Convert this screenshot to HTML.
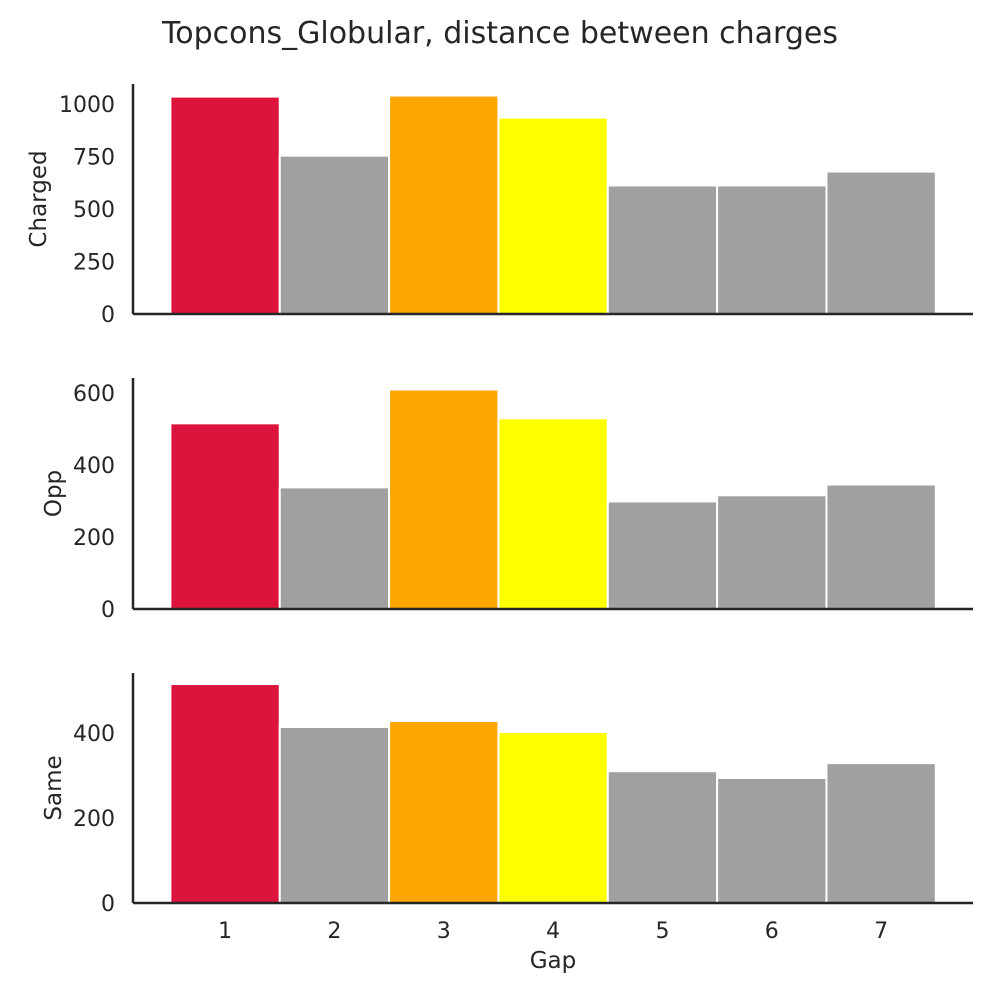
<!DOCTYPE html>
<html><head><meta charset="utf-8"><style>
body{margin:0;background:#fff;}
svg text{font-family:"DejaVu Sans","Liberation Sans",sans-serif;fill:#262626;}
</style></head><body>
<svg id="chart" width="1000" height="1000" viewBox="0 0 1000 1000" xmlns="http://www.w3.org/2000/svg">
<rect width="1000" height="1000" fill="#fff"/>
<text x="500" y="43" font-size="30" text-anchor="middle">Topcons_Globular, distance between charges</text>
<text x="553" y="968" font-size="23" text-anchor="middle">Gap</text>
</svg>
<script>
const categories = [1,2,3,4,5,6,7];
const chargedValues = [1035,754,1040,935,612,612,678];
const oppValues = [516,338,610,530,299,316,346];
const sameValues = [515,414,428,402,310,294,329];
const chargedTicks = [0,250,500,750,1000];
const oppTicks = [0,200,400,600];
const sameTicks = [0,200,400];
const barColors = ['#dc143c','#a0a0a0','#ffa500','#ffff00','#a0a0a0','#a0a0a0','#a0a0a0'];

const svg = document.getElementById('chart');
const NS = 'http://www.w3.org/2000/svg';
const X0 = 133, X1 = 973, XMIN = 0.158, XMAX = 7.84;
function xScale(v){ return X0 + (v - XMIN) / (XMAX - XMIN) * (X1 - X0); }
function mk(tag, attrs){ const e = document.createElementNS(NS, tag); for (const k in attrs) e.setAttribute(k, attrs[k]); svg.appendChild(e); return e; }

const panels = [
  {name:'charged', label:'Charged', values:chargedValues, ticks:chargedTicks, top:84, bottom:314, ymax:1095, lx:38},
  {name:'opp', label:'Opp', values:oppValues, ticks:oppTicks, top:378, bottom:609, ymax:642, lx:53},
  {name:'same', label:'Same', values:sameValues, ticks:sameTicks, top:673, bottom:903, ymax:541, lx:53}
];
panels.forEach((p, pi) => {
  const y = v => p.bottom - v / p.ymax * (p.bottom - p.top);
  p.values.forEach((v, i) => {
    const xl = xScale(categories[i] - 0.5), xr = xScale(categories[i] + 0.5);
    const r = mk('rect', {x:xl, y:y(v), width:xr - xl, height:p.bottom - y(v), fill:barColors[i], stroke:'#fff', 'stroke-width':2});
    
    
  });
  const ya = mk('line', {x1:X0, x2:X0, y1:p.top, y2:p.bottom, stroke:'#262626', 'stroke-width':2.5});
  
  
  const xa = mk('line', {x1:X0, x2:X1, y1:p.bottom, y2:p.bottom, stroke:'#262626', 'stroke-width':2.5});
  
  
  p.ticks.forEach(t => {
    const tl = mk('text', {x:115, y:y(t) + 8, 'font-size':22, 'text-anchor':'end'});
    tl.textContent = t;
    
    
  });
  const cy = (p.top + p.bottom) / 2;
  const lab = mk('text', {x:0, y:0, 'font-size':23, 'text-anchor':'middle', transform:'translate(' + (p.lx + 8) + ',' + cy + ') rotate(-90)'});
  lab.textContent = p.label;
  
  
  if (pi === 2) {
    categories.forEach(c => {
      const t = mk('text', {x:xScale(c), y:p.bottom + 35, 'font-size':22, 'text-anchor':'middle'});
      t.textContent = c;
      
      
    });
  }
});
</script>
</body></html>
